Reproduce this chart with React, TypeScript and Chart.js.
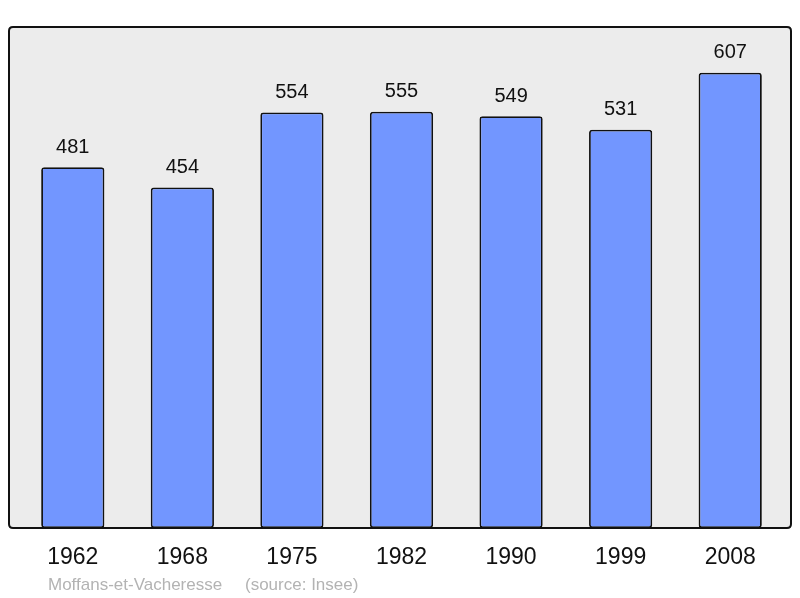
import React, { useEffect, useRef } from "react";
import { Chart, registerables } from "chart.js";

Chart.register(...registerables);

const years = ["1962", "1968", "1975", "1982", "1990", "1999", "2008"];
const population = [481, 454, 554, 555, 549, 531, 607];
const commune = "Moffans-et-Vacheresse";
const source = "(source: Insee)";

const FONT = "'Liberation Sans', Arial, sans-serif";

const framePlugin = {
  id: "frame",
  beforeDatasetsDraw(chart: any) {
    const { ctx } = chart;
    ctx.save();
    const x = 9, y = 27, w = 782, h = 501, r = 4;
    ctx.beginPath();
    ctx.moveTo(x + r, y);
    ctx.lineTo(x + w - r, y);
    ctx.quadraticCurveTo(x + w, y, x + w, y + r);
    ctx.lineTo(x + w, y + h - r);
    ctx.quadraticCurveTo(x + w, y + h, x + w - r, y + h);
    ctx.lineTo(x + r, y + h);
    ctx.quadraticCurveTo(x, y + h, x, y + h - r);
    ctx.lineTo(x, y + r);
    ctx.quadraticCurveTo(x, y, x + r, y);
    ctx.closePath();
    ctx.fillStyle = "#ececec";
    ctx.fill();
    ctx.lineWidth = 2;
    ctx.strokeStyle = "#111";
    ctx.stroke();
    ctx.restore();
  },
  afterDatasetsDraw(chart: any) {
    const { ctx } = chart;
    const xs = chart.scales.x;
    const ys = chart.scales.y;
    ctx.save();
    ctx.fillStyle = "#111";
    ctx.textAlign = "center";
    ctx.textBaseline = "middle";
    ctx.font = `20px ${FONT}`;
    population.forEach((v, i) => {
      ctx.fillText(String(v), xs.getPixelForValue(i), ys.getPixelForValue(v) - 20);
    });
    ctx.font = `23px ${FONT}`;
    years.forEach((yr, i) => {
      ctx.fillText(yr, xs.getPixelForValue(i), chart.chartArea.bottom + 30);
    });
    ctx.fillStyle = "#b3b3b3";
    ctx.textAlign = "left";
    ctx.font = `17px ${FONT}`;
    ctx.fillText(commune, 48, 585);
    ctx.fillText(source, 245, 585);
    ctx.restore();
  },
};

export default function App() {
  const ref = useRef<HTMLCanvasElement>(null);
  useEffect(() => {
    if (!ref.current) return;
    const chart = new Chart(ref.current, {
      type: "bar",
      data: {
        labels: years,
        datasets: [
          {
            data: population,
            backgroundColor: "#7296ff",
            borderColor: "#111",
            borderWidth: 1.8,
            borderRadius: 3,
            borderSkipped: false,
            categoryPercentage: 1,
            barPercentage: 0.577,
          },
        ],
      },
      options: {
        animation: false,
        responsive: false,
        maintainAspectRatio: false,
        layout: { padding: { left: 18, right: 15, top: 27, bottom: 70 } },
        plugins: { legend: { display: false }, tooltip: { enabled: false } },
        scales: {
          x: { display: false },
          y: { display: false, min: 0, max: 668 },
        },
      },
      plugins: [framePlugin],
    });
    return () => chart.destroy();
  }, []);
  return (
    <div style={{ position: "fixed", left: 0, top: 0, width: 800, height: 598, background: "#fff" }}>
      <canvas ref={ref} width={800} height={598} />
    </div>
  );
}
